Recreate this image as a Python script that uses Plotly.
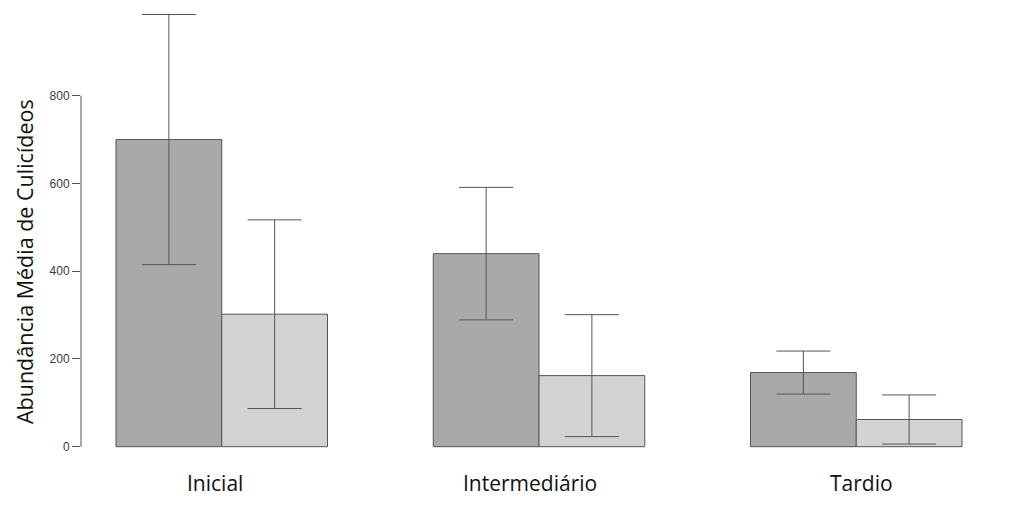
import plotly.graph_objects as go

# ---- data ----
categories = ["Inicial", "Intermediário", "Tardio"]
serie_a = [700, 440, 169]        # dark bars
serie_a_err = [285, 151, 49]
serie_b = [302, 162, 62]         # light bars
serie_b_err = [215, 139, 56]
y_ticks = [0, 200, 400, 600, 800]

# ---- layout helpers ----
centers = [2 + 3 * i for i in range(len(categories))]
x_a = [c - 0.5 for c in centers]
x_b = [c + 0.5 for c in centers]
label_nudge = [-7, -9, 5]  # px

OFF = 8                      # page body margin
PW, PH = 1012, 507           # page size
W, H = PW - OFF, PH - OFF    # figure size
ml, mr, mt, mb = 81 - OFF, 12, 0, 40
plot_left, plot_top = 81, OFF + mt
plot_bottom = PH - mb
plot_w = W - ml - mr
plot_h = H - mt - mb

px_per_x = 105.75
x0 = 1 - (116 - plot_left) / px_per_x
x1 = x0 + plot_w / px_per_x
px_per_y = 0.43875
zero_px = 446.7
y0 = (zero_px - plot_bottom) / px_per_y
y1 = (zero_px - plot_top) / px_per_y

edge = "#555555"
fig = go.Figure()
fig.add_trace(go.Bar(
    x=x_a, y=serie_a, width=1,
    marker=dict(color="#A9A9A9", line=dict(color=edge, width=1)),
    error_y=dict(type="data", array=serie_a_err, visible=True,
                 color=edge, thickness=1, width=27),
    showlegend=False, hoverinfo="skip"))
fig.add_trace(go.Bar(
    x=x_b, y=serie_b, width=1,
    marker=dict(color="#D3D3D3", line=dict(color=edge, width=1)),
    error_y=dict(type="data", array=serie_b_err, visible=True,
                 color=edge, thickness=1, width=27),
    showlegend=False, hoverinfo="skip"))

# y axis line from 0 to 800 only (R style)
fig.add_shape(type="line", xref="paper", yref="y", x0=0, x1=0,
              y0=y_ticks[0], y1=y_ticks[-1], line=dict(color="#555555", width=1))

for c, lab, dx in zip(centers, categories, label_nudge):
    fig.add_annotation(x=c, y=0, xref="x", yref="y", text=lab, showarrow=False,
                       yshift=-36, xshift=dx, xanchor="center", yanchor="middle",
                       font=dict(family="Open Sans", size=21, color="#111111"))

fig.add_annotation(x=(24 - plot_left) / plot_w, y=(plot_bottom - 262) / plot_h,
                   xref="paper", yref="paper", text="Abundância Média de Culicídeos",
                   textangle=-90, showarrow=False, xanchor="center", yanchor="middle",
                   font=dict(family="Open Sans", size=21.5, color="#111111"))

fig.update_layout(
    width=W, height=H,
    margin=dict(l=ml, r=mr, t=mt, b=mb, autoexpand=False),
    paper_bgcolor="white", plot_bgcolor="white",
    barmode="overlay",
    xaxis=dict(range=[x0, x1], showticklabels=False, showgrid=False,
               zeroline=False, showline=False, ticks=""),
    yaxis=dict(range=[y0, y1], tickvals=y_ticks, ticks="outside", ticklen=8,
               tickcolor="#555555", showgrid=False, zeroline=False, showline=False,
               tickfont=dict(family="Arial", size=12, color="#3a3a4a")),
)

fig.write_html("out.html")
